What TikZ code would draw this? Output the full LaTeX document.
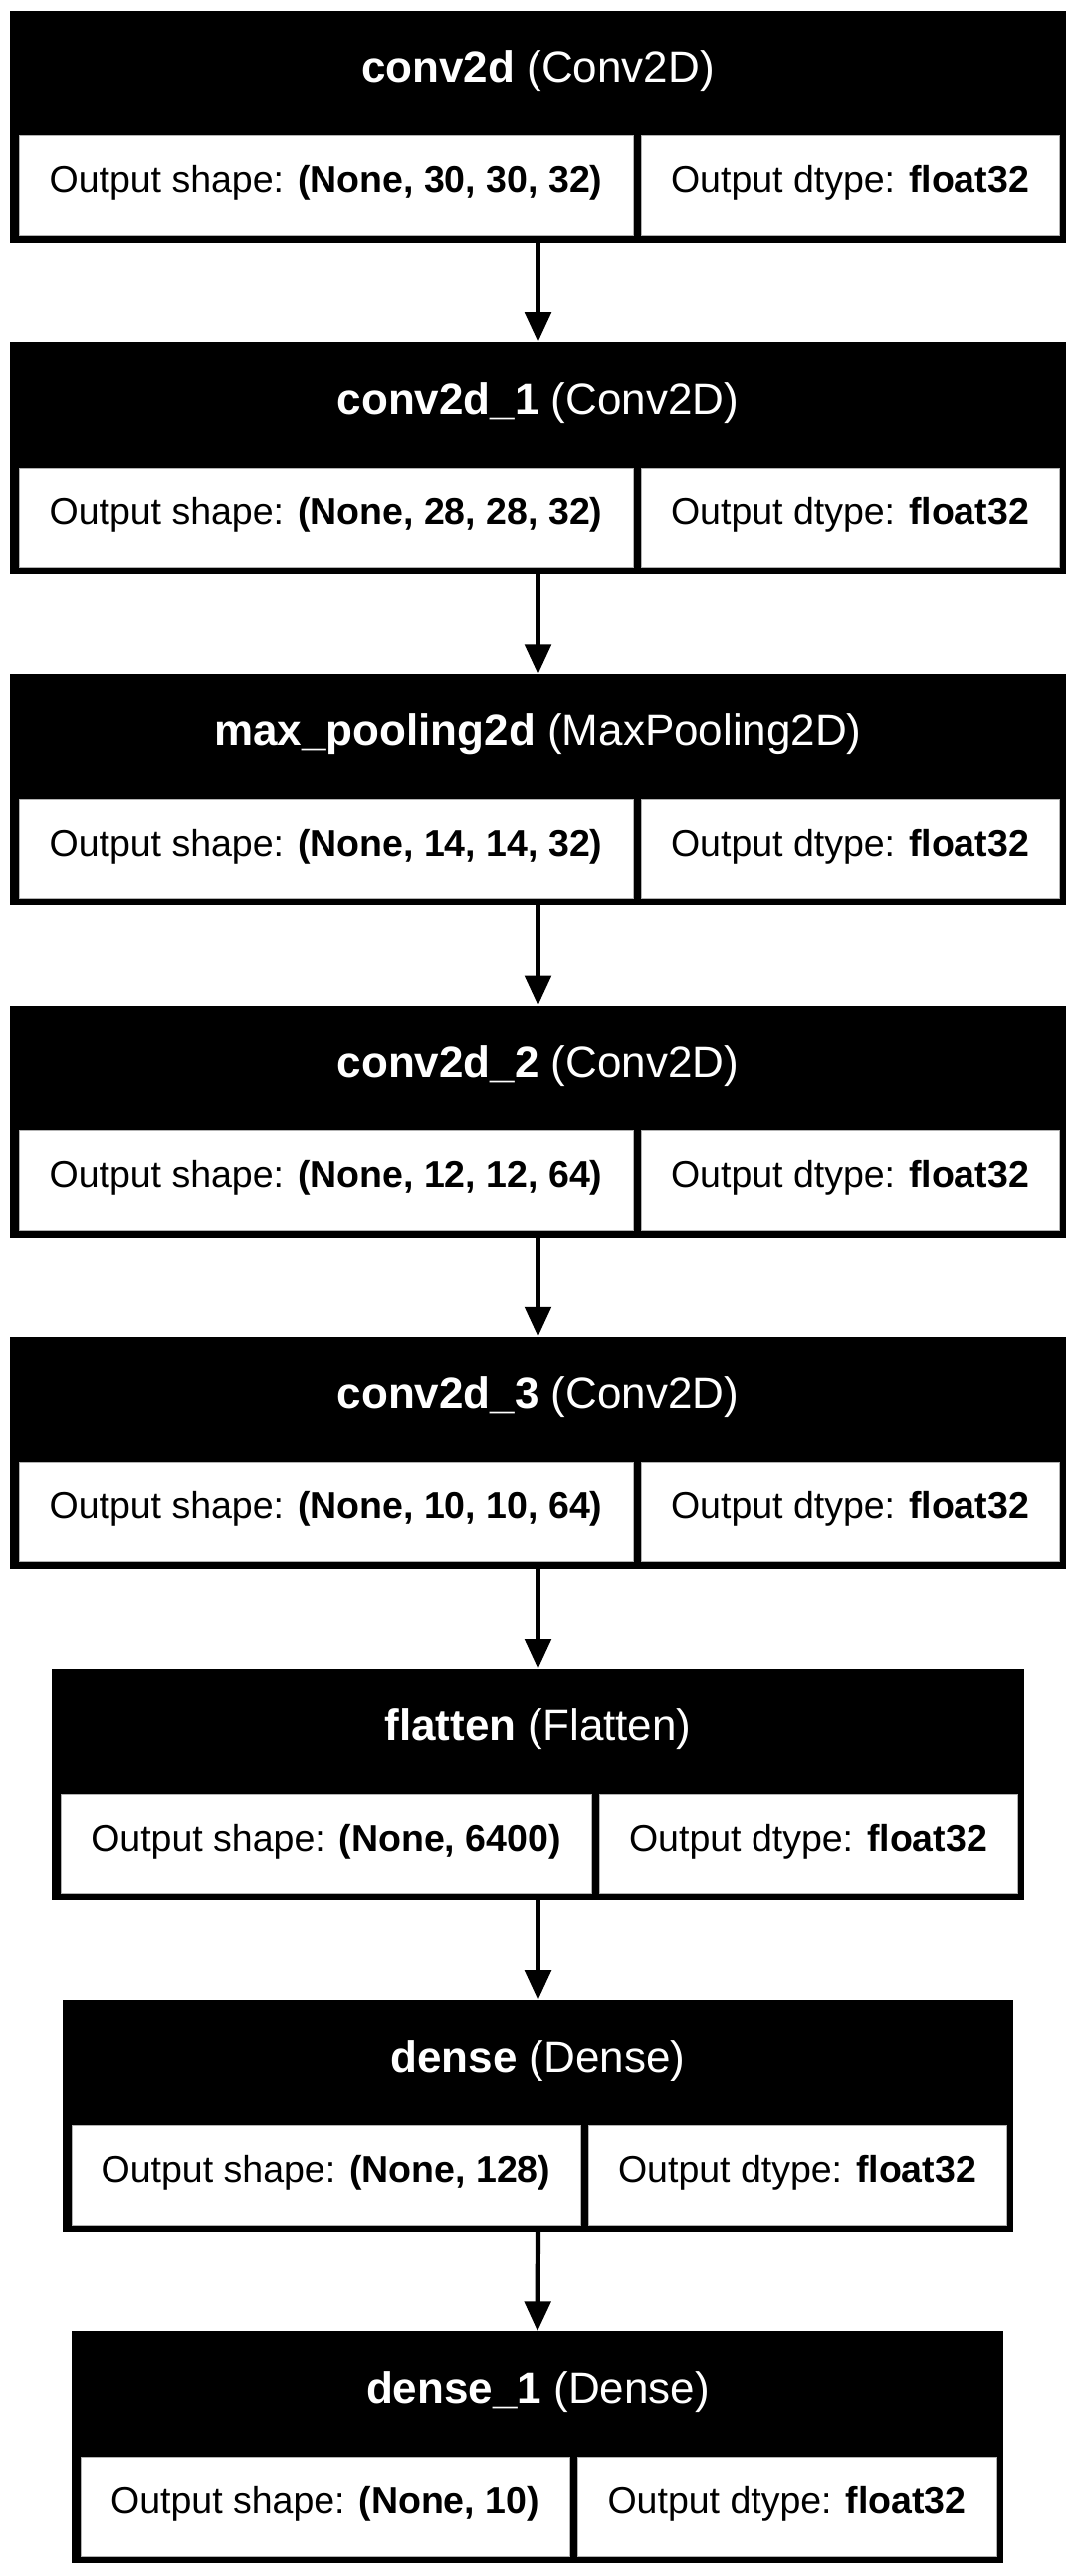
\documentclass[tikz,border=0pt]{standalone}
\usepackage{fontspec}
\setmainfont{Liberation Sans}
\usetikzlibrary{arrows.meta}
\tikzset{
  box/.style={rectangle, fill=black, draw=none, inner sep=0pt, outer sep=0pt},
  cell/.style={rectangle, fill=white, draw=gray!60, line width=0.5pt, inner sep=0pt, outer sep=0pt},
  ttl/.style={text=white, inner sep=0pt, anchor=base, font=\fontsize{22}{24}\selectfont},
  txt/.style={text=black, inner sep=0pt, anchor=base, font=\fontsize{18.75}{21}\selectfont},
  arr/.style={line width=2.6pt, -{Triangle[length=15pt,width=13pt]}}
}
% #1 name, #2 top, #3 left, #4 right, #5 divider, #6 bold title, #7 regular title, #8 shape
\newcommand\mylayer[8]{%
  \pgfmathsetmacro\lyW{(#4-#3)*0.5}%
  \pgfmathsetmacro\lyA{(#5-#3-9)*0.5}%
  \pgfmathsetmacro\lyB{(#4-7-#5-8)*0.5}%
  \node[box, minimum width=\lyW pt, minimum height=116.5pt, anchor=north west] (#1) at (#3,#2) {};
  \node[cell, minimum width=\lyA pt, minimum height=50pt, anchor=north west] (#1l) at ({#3+9},{#2+126}) {};
  \node[cell, minimum width=\lyB pt, minimum height=50pt, anchor=north west] (#1r) at ({#5+8},{#2+126}) {};
  \node[ttl] (#1t) at (540.5,{#2+72}) {\textbf{#6} #7};
  \node[txt] (#1ls) at ({(#3+9+#5)/2},{#2+183}) {Output shape: \textbf{#8}};
  \node[txt] (#1rs) at ({(#5+8+#4-7)/2},{#2+183}) {Output dtype: \textbf{float32}};
}
\begin{document}
\begin{tikzpicture}[x=0.5pt,y=-0.5pt]
\useasboundingbox[fill=white] (0,0) rectangle (1081,2589);
\mylayer{b1}{11}{10}{1071}{636}{conv2d}{(Conv2D)}{(None, 30, 30, 32)}
\mylayer{b2}{344.2}{10}{1071}{636}{conv2d\_1}{(Conv2D)}{(None, 28, 28, 32)}
\mylayer{b3}{677.4}{10}{1071}{636}{max\_pooling2d}{(MaxPooling2D)}{(None, 14, 14, 32)}
\mylayer{b4}{1010.6}{10}{1071}{636}{conv2d\_2}{(Conv2D)}{(None, 12, 12, 64)}
\mylayer{b5}{1343.8}{10}{1071}{636}{conv2d\_3}{(Conv2D)}{(None, 10, 10, 64)}
\mylayer{b6}{1677}{52}{1029}{594}{flatten}{(Flatten)}{(None, 6400)}
\mylayer{b7}{2010.2}{63}{1018}{583}{dense}{(Dense)}{(None, 128)}
\mylayer{b8}{2343.4}{72}{1008}{572}{dense\_1}{(Dense)}{(None, 10)}
\draw[arr] (b1.south) -- (b2.north);
\draw[arr] (b2.south) -- (b3.north);
\draw[arr] (b3.south) -- (b4.north);
\draw[arr] (b4.south) -- (b5.north);
\draw[arr] (b5.south) -- (b6.north);
\draw[arr] (b6.south) -- (b7.north);
\draw[arr] (b7.south) -- (b8.north);
\end{tikzpicture}
\end{document}
